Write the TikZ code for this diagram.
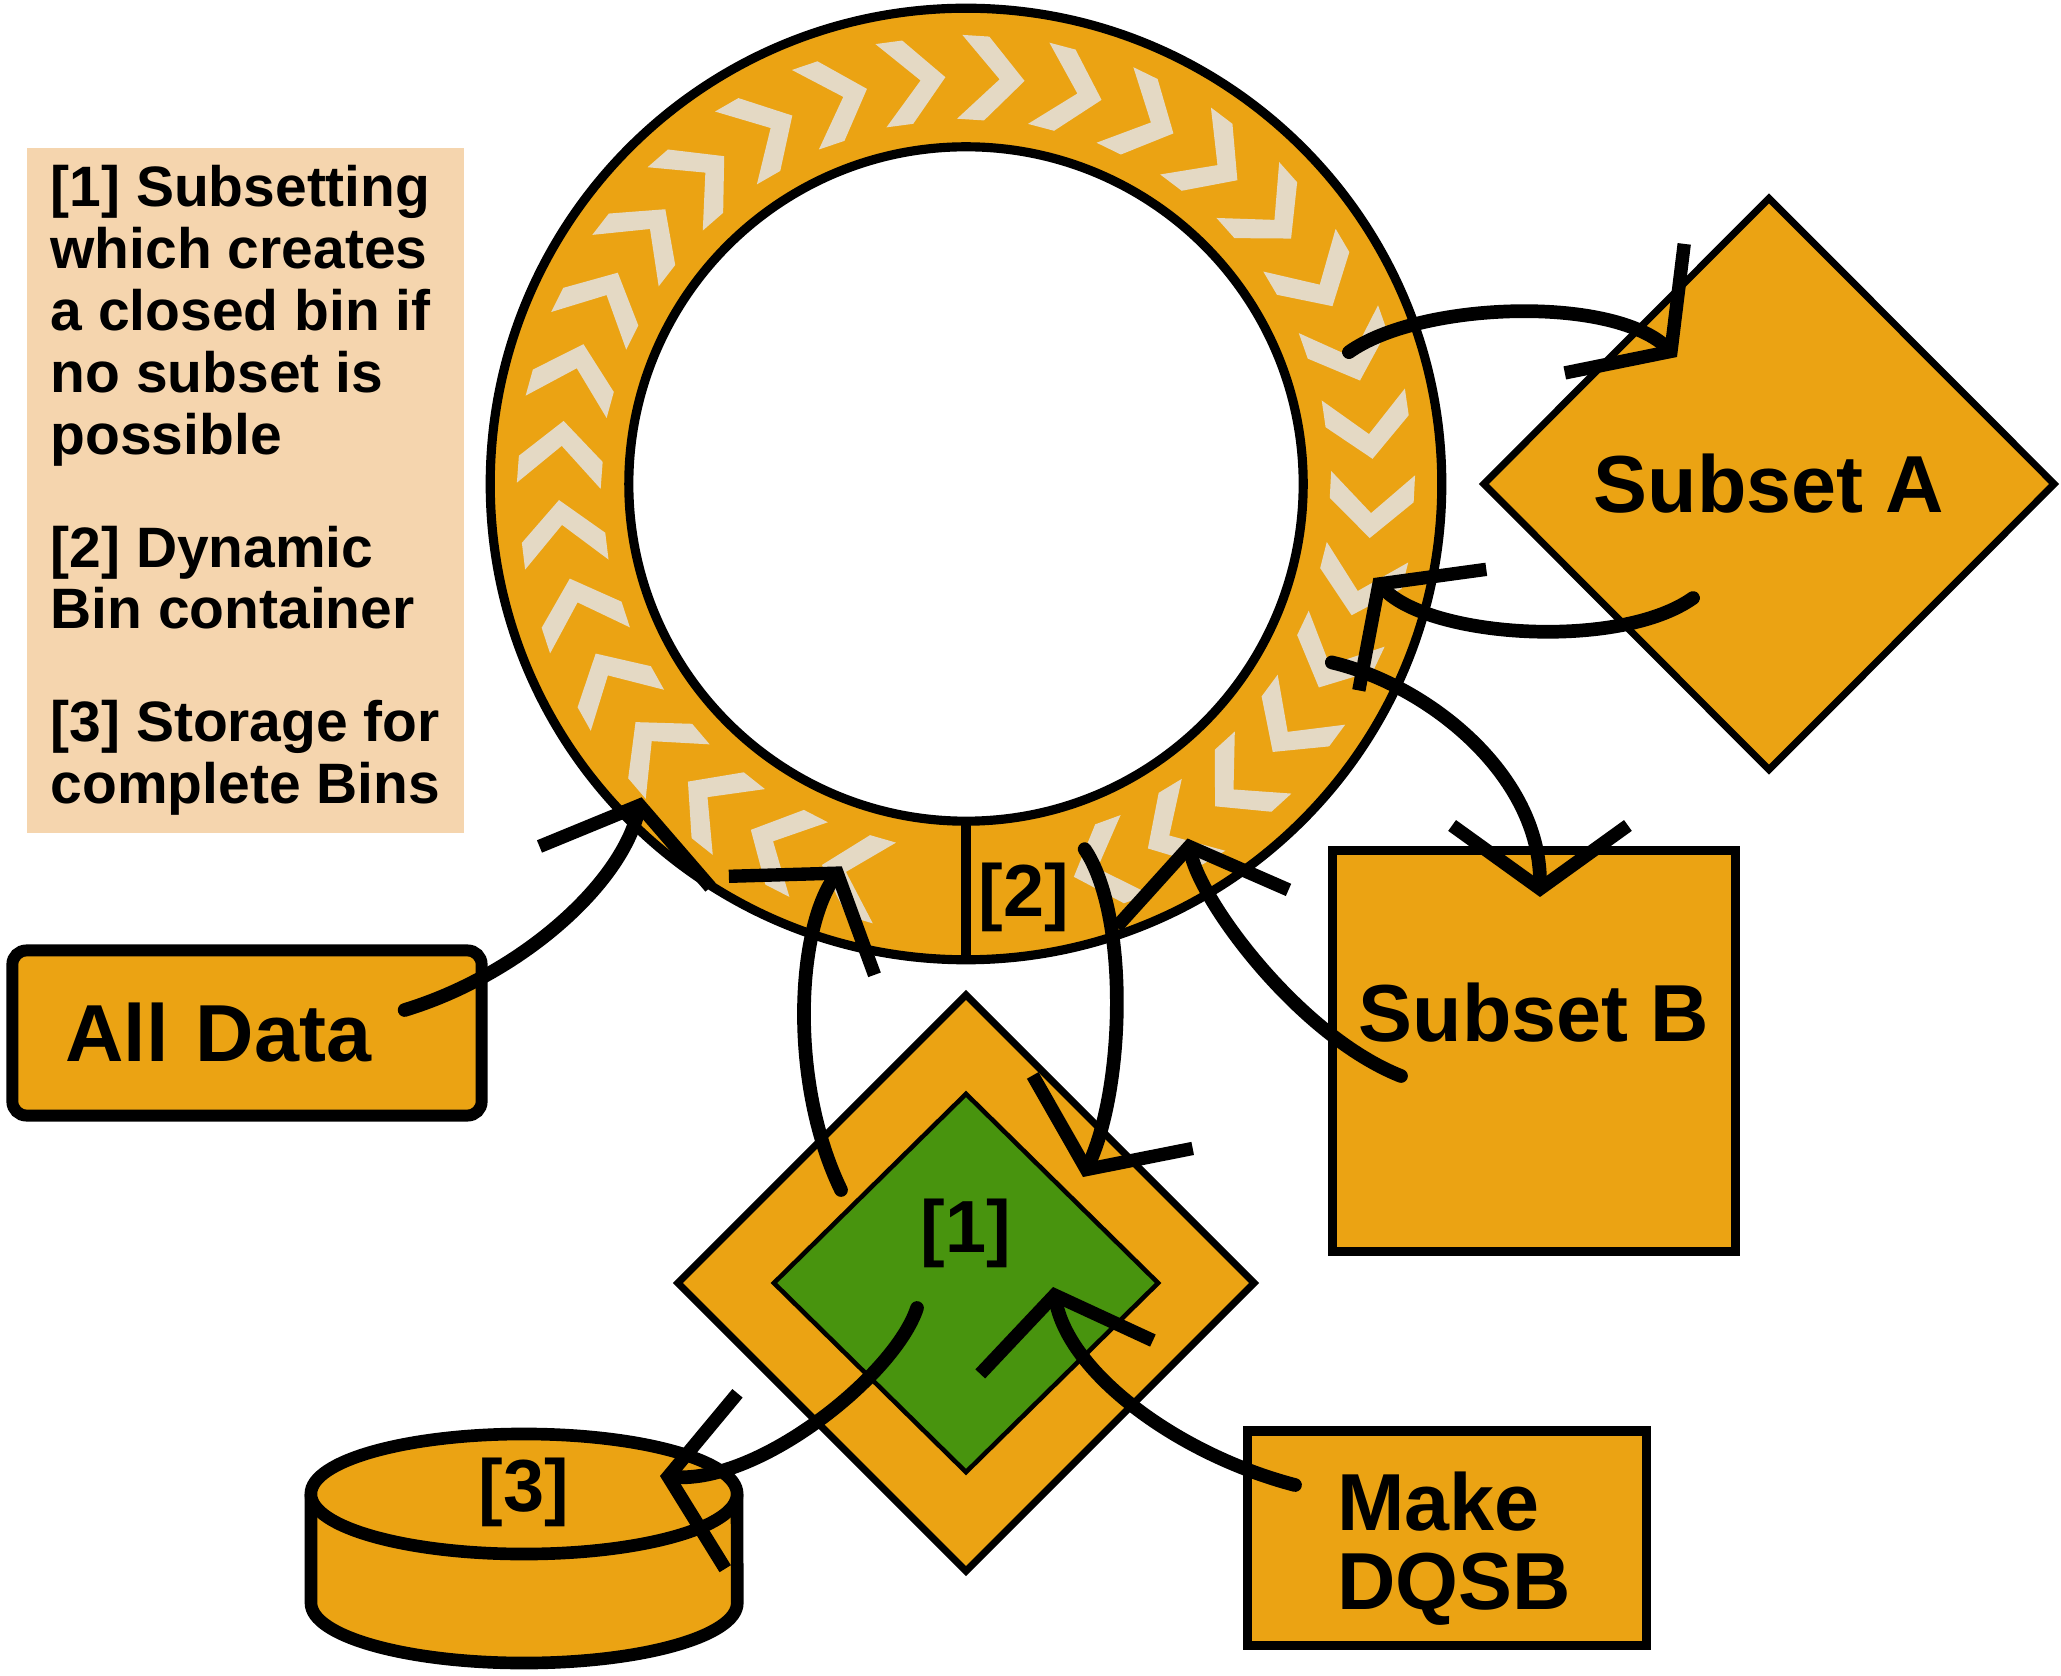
\documentclass[tikz,border=0pt]{standalone}
\usepackage{fontspec}
\setmainfont{Liberation Sans}
\usetikzlibrary{shapes.geometric,arrows.meta}
\definecolor{binorange}{RGB}{235,163,19}
\definecolor{chevcol}{RGB}{228,217,196}
\definecolor{leafgreen}{RGB}{72,148,14}
\definecolor{notepeach}{RGB}{245,213,174}
\tikzset{
  ring/.style={circle, draw, line width=2.6pt, inner sep=0pt, outer sep=0pt},
  box/.style={rectangle, draw, fill=binorange, line width=2.6pt, inner sep=0pt, outer sep=0pt},
  gem/.style={diamond, draw, fill=binorange, line width=2pt, inner sep=0pt, outer sep=0pt},
  tag/.style={font=\bfseries\fontsize{21}{21}\selectfont, inner sep=0pt},
  big/.style={font=\bfseries\fontsize{23}{22.5}\selectfont},
  flow/.style={line width=3.9pt, line cap=round, -{Straight Barb[length=18pt,width=50pt,line width=3.8pt]}},
}
\begin{document}
\begin{tikzpicture}[x=0.01cm, y=0.01cm]
    \useasboundingbox (0,0) rectangle (2061,1675);
    \node[ring, fill=binorange, minimum size=9.51cm] (bin) at (966,1191) {};
    \foreach \k in {0,...,29}
        \fill[chevcol, shift={(bin.center)}, rotate={-70+11.17*\k}] (448,32) -- (448,5) -- (406,-33) -- (364,5) -- (364,32) -- (406,-8) -- cycle;
    \node[ring, fill=white, minimum size=6.74cm] (hole) at (bin) {};
    \draw[line width=2.6pt] (hole.south) -- (bin.south);
    \node[tag] (lbl2) at (1024,778) {[2]};
    \node[anchor=north west, fill=notepeach, minimum width=4.37cm, minimum height=6.85cm,
        inner sep=0pt, align=left, font=\bfseries\fontsize{16.2}{17.6}\selectfont] (key) at (26,1528)
        {{[1]} Subsetting\\which creates\\a closed bin if\\no subset is\\possible\\[14.5pt]{[2]} Dynamic\\Bin container\\[14.5pt]{[3]} Storage for\\complete Bins};
    \node[box, line width=3.4pt, rounded corners=4pt, minimum width=4.69cm, minimum height=1.65cm, text width=3.63cm,
        inner xsep=0.53cm, align=left, big] (alldata) at (247,642) {All Data};
    \node[gem, minimum width=5.70cm, minimum height=5.71cm, big] (subA) at (1769,1191) {Subset A};
    \node[box, minimum width=4.02cm, minimum height=4.01cm, text height=0.62cm, text depth=0.81cm, big] (subB) at (1534,624) {Subset B};
    \node[box, minimum width=3.99cm, minimum height=2.14cm, text width=2.19cm, inner xsep=0.9cm, align=left, big] (make) at (1447,137)
        {\rule{0pt}{22.5pt}Make\\DQSB};
    \node[gem, minimum width=5.76cm, minimum height=5.76cm] (split) at (966,392) {};
    \node[gem, fill=leafgreen, line width=1.3pt, minimum width=3.84cm, minimum height=3.78cm] (core) at (split) {};
    \node[tag] (lbl1) at (966,442) {[1]};
    \fill[binorange] (311,181) -- (311,72) arc[start angle=180, end angle=360, x radius=2.13cm, y radius=0.6cm] -- (737,181) -- cycle;
    \draw[line width=3.6pt] (311,181) -- (311,72) arc[start angle=180, end angle=360, x radius=2.13cm, y radius=0.6cm] -- (737,181);
    \draw[line width=3.6pt, fill=binorange] (524,181) ellipse [x radius=2.13cm, y radius=0.6cm];
    \node[tag] (store) at (524,183) {[3]};
    \draw[flow] ([shift={(-77,23)}]alldata.east) .. controls +(115,35) and +(-21,-88) .. ([shift={(224:451)}]bin.center);
    \draw[flow] ([shift={(-125,93)}]split.center) .. controls +(-51,105) and +(-46,-68) .. ([shift={(252:402)}]bin.center);
    \draw[flow] ([shift={(288:384)}]bin.center) .. controls +(44,-65) and +(42,92) .. ([shift={(117,106)}]split.center);
    \draw[flow] ([shift={(-133,-25)}]subB.center) .. controls +(-101,40) and +(14,-65) .. ([shift={(302:418)}]bin.center);
    \draw[flow] ([shift={(19:405)}]bin.center) .. controls +(70,50) and +(-67,62) .. ([shift={(-92,127)}]subA.center);
    \draw[flow] ([shift={(-76,-114)}]subA.center) .. controls +(-73,-52) and +(57,-60) .. ([shift={(-13:418)}]bin.center);
    \draw[flow] ([shift={(-26:407)}]bin.center) .. controls +(97,-23) and +(0,122) .. ([shift={(6,154)}]subB.center);
    \draw[flow] ([shift={(-49,-25)}]split.center) .. controls +(-22,-67) and +(100,-7) .. ([shift={(136,16)}]store.center);
    \draw[flow] ([shift={(-152,53)}]make.center) .. controls +(-115,30) and +(17,-88) .. ([shift={(87,-4)}]split.center);
\end{tikzpicture}
\end{document}
